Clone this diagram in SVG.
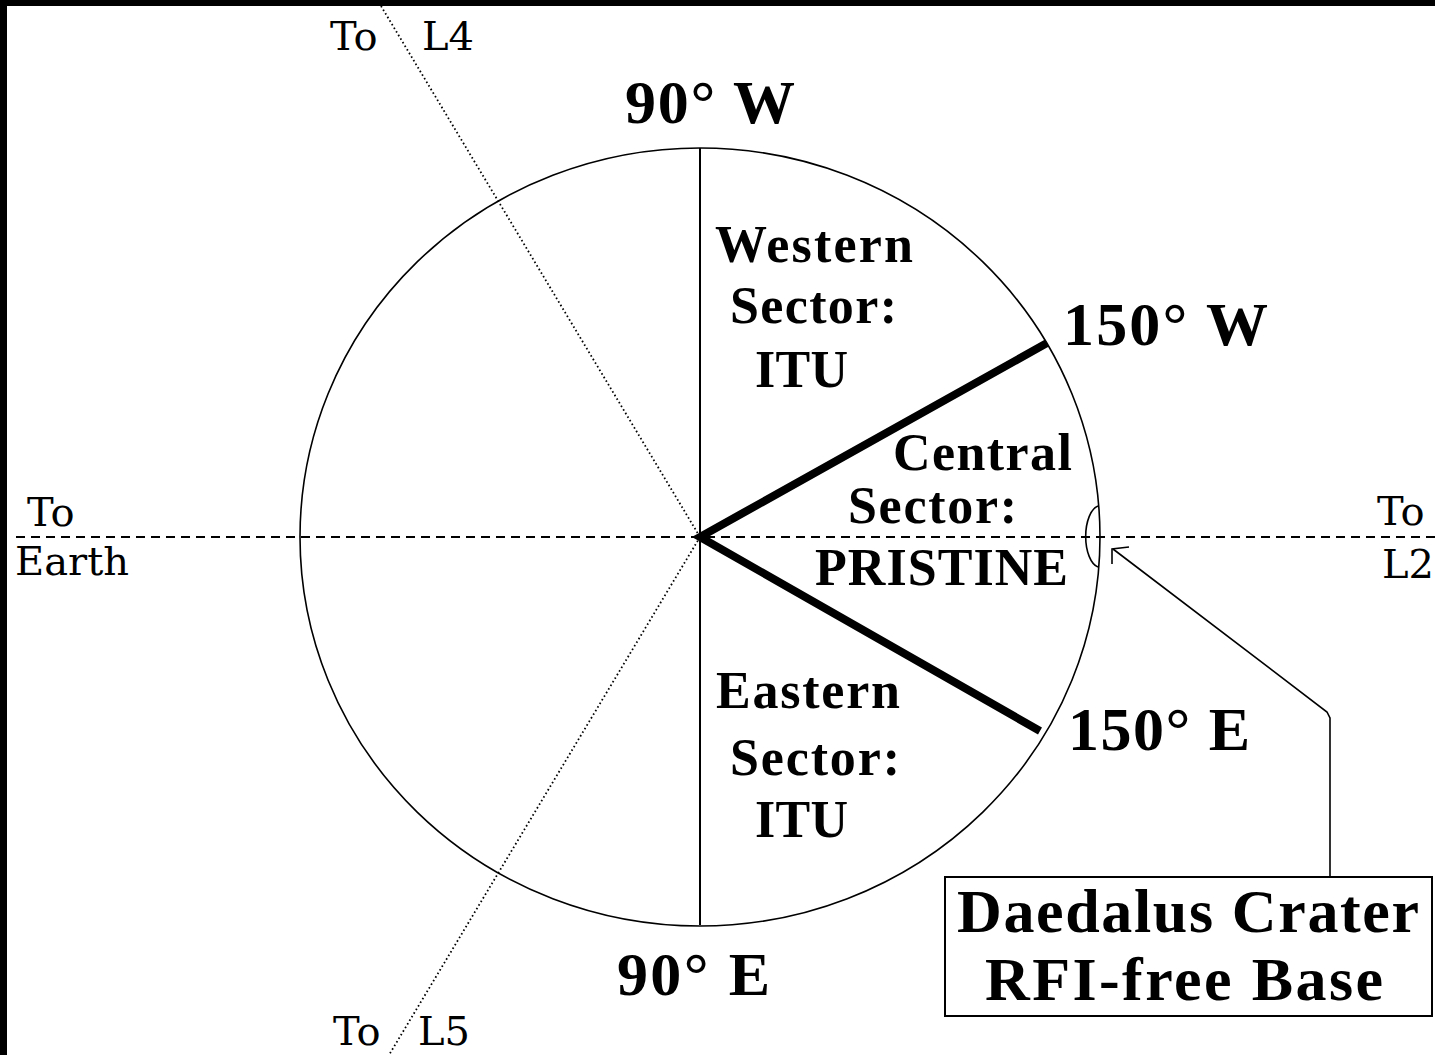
<svg xmlns="http://www.w3.org/2000/svg" width="1435" height="1055" viewBox="0 0 1435 1055">
<style>
.big{font-family:"Liberation Serif","Times New Roman",serif;font-weight:bold;font-size:62px;fill:#000}
.mid{font-family:"Liberation Serif","Times New Roman",serif;font-weight:bold;font-size:52px;fill:#000}
.sm{font-family:"DejaVu Serif",serif;font-size:40px;fill:#000}
.thin{fill:none;stroke:#000;stroke-width:1.6}
.dot{fill:none;stroke:#000;stroke-width:1.8;stroke-dasharray:1.6,2.6}
.dash{fill:none;stroke:#000;stroke-width:2;stroke-dasharray:9,6}
</style>
<rect x="0" y="0" width="1435" height="1055" fill="#fff"/>
<rect x="0" y="0" width="1435" height="6" fill="#000"/>
<rect x="0" y="0" width="7" height="1055" fill="#000"/>

<g id="moon">
<ellipse cx="700" cy="537" rx="400" ry="389" class="thin"/>
<line x1="700" y1="148" x2="700" y2="925" stroke="#000" stroke-width="2"/>
</g>

<g id="connectors">
<line x1="16" y1="537" x2="1435" y2="537" class="dash"/>
<line x1="381" y1="6" x2="700" y2="537" class="dot"/>
<line x1="700" y1="537" x2="389" y2="1055" class="dot"/>
<polyline points="1047,343 700,537 1040,731" fill="none" stroke="#000" stroke-width="8" stroke-linejoin="miter"/>
<path d="M1098,506 A15,31 0 0 0 1098,567" class="thin"/>
<polyline points="1113,549 1327,712 1330,718 1330,877" class="thin"/>
<polyline points="1129,547 1112,549 1112,564" class="thin"/>
</g>

<g id="label-90W"><text class="big" x="625" y="123" textLength="170">90° W</text></g>
<g id="label-90E"><text class="big" x="617" y="995" textLength="153">90° E</text></g>
<g id="label-150W"><text class="big" x="1063" y="345" textLength="205">150° W</text></g>
<g id="label-150E"><text class="big" x="1068" y="750" textLength="182">150° E</text></g>

<g id="western">
<text class="mid" x="715" y="262" textLength="198">Western</text>
<text class="mid" x="730" y="323" textLength="167">Sector:</text>
<text class="mid" x="755" y="387" textLength="93">ITU</text>
</g>
<g id="central">
<text class="mid" x="893" y="470" textLength="179">Central</text>
<text class="mid" x="848" y="523" textLength="169">Sector:</text>
<text class="mid" x="815" y="585" textLength="253">PRISTINE</text>
</g>
<g id="eastern">
<text class="mid" x="716" y="708" textLength="184">Eastern</text>
<text class="mid" x="730" y="775" textLength="170">Sector:</text>
<text class="mid" x="755" y="837" textLength="93">ITU</text>
</g>

<g id="to-l4">
<text class="sm" x="330" y="50">To</text>
<text class="sm" x="422" y="50">L4</text>
</g>
<g id="to-l5">
<text class="sm" x="333" y="1045">To</text>
<text class="sm" x="418" y="1045">L5</text>
</g>
<g id="to-earth">
<text class="sm" x="27" y="526">To</text>
<text class="sm" x="15" y="575">Earth</text>
</g>
<g id="to-l2">
<text class="sm" x="1377" y="525">To</text>
<text class="sm" x="1382" y="578">L2</text>
</g>

<g id="base-box">
<rect x="945" y="877" width="487" height="139" fill="#fff" stroke="#000" stroke-width="2"/>
<text class="big" x="957" y="932" textLength="462">Daedalus Crater</text>
<text class="big" x="985" y="1000" textLength="398">RFI-free Base</text>
</g>
</svg>
